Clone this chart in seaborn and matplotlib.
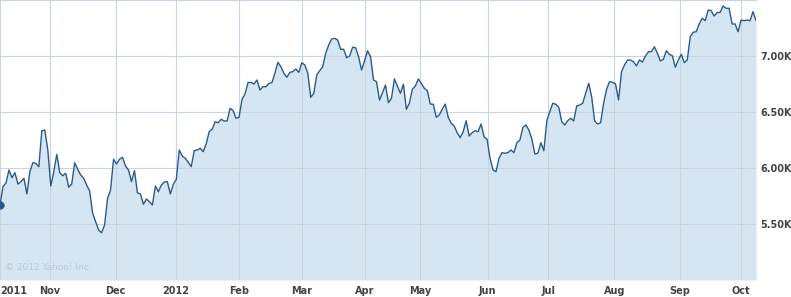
import numpy as np
import pandas as pd
import matplotlib
matplotlib.use("Agg")
import matplotlib.pyplot as plt
import seaborn as sns

# ---- data (index closes, trading days Oct 2011 - Oct 2012) ----
closes = [
    5670, 5833, 5866, 5982, 5913, 5958, 5857, 5878, 5908, 5768, 5967, 6047, 6042, 6012,
    6333, 6339, 6161, 5839, 5967, 6122, 5958, 5931, 5953, 5828, 5857, 6047, 5988, 5938,
    5908, 5848, 5795, 5596, 5521, 5446, 5422, 5491, 5729, 5804, 6078, 6036, 6078, 6096,
    6018,
    5982, 5878, 5976, 5779, 5768, 5676, 5723, 5699, 5670, 5839, 5788, 5848, 5875, 5878,
    5768, 5854, 5899, 6161, 6107, 6087, 6051, 6012, 6154, 6161, 6176, 6146, 6214, 6324,
    6346, 6413, 6404, 6435, 6420, 6420, 6533, 6512, 6444, 6453, 6613, 6661, 6762, 6765,
    6750, 6786, 6696, 6726, 6726, 6756, 6762, 6846, 6944, 6904, 6846, 6810, 6854, 6860,
    6884, 6854, 6940, 6920, 6846, 6631, 6667, 6830, 6869, 6904, 7024, 7098, 7152, 7158,
    7143, 7060, 7060, 6985, 7000, 7078, 7074, 6994, 6875, 6958, 7047, 6994, 6786, 6771,
    6607,
    6672, 6741, 6583, 6622, 6795, 6732, 6667, 6747, 6524, 6578, 6703, 6732, 6795, 6756,
    6712, 6690, 6571, 6569, 6453, 6473, 6524, 6571, 6453, 6399, 6375, 6315, 6271, 6324,
    6422, 6286, 6315, 6333, 6324, 6393, 6279, 6256, 6087, 5982, 5967, 6087, 6137, 6131,
    6137,
    6161, 6137, 6226, 6250, 6363, 6384, 6339, 6256, 6125, 6131, 6226, 6154, 6422, 6503,
    6578, 6569, 6542, 6413, 6384, 6422, 6444, 6420, 6554, 6562, 6578, 6667, 6756, 6637,
    6420, 6393, 6404, 6578, 6703, 6771, 6765, 6750, 6607, 6860, 6920, 6964,
    6964, 6949, 6911, 6964, 6946, 7000, 7038, 7038, 7083, 7024, 6955, 6971, 7047, 7015,
    7003, 6899, 6964, 7015, 6940, 6964, 7172, 7212, 7217, 7286, 7337, 7315, 7411, 7404,
    7357, 7387, 7390, 7446, 7426, 7426, 7286, 7286, 7217, 7321, 7315, 7321, 7315, 7396,
    7315,
]
month_labels = ["2011", "Nov", "Dec", "2012", "Feb", "Mar", "Apr", "May", "Jun",
                "Jul", "Aug", "Sep", "Oct"]
month_ticks = [0, 16.7, 38.7, 58.8, 80.1, 101.0, 122.2, 140.7, 163.2, 183.5,
               205.6, 227.6, 248.0]
y_ticks = [5500, 6000, 6500, 7000]
y_labels = ["5.50K", "6.00K", "6.50K", "7.00K"]
watermark = "\u00a9 2012 Yahoo! Inc."

df = pd.DataFrame({"day": np.arange(len(closes)), "close": closes})

sns.set_style("white")
plt.rcParams["font.family"] = ["DejaVu Sans"]

W, H = 791, 297
fig = plt.figure(figsize=(W / 100, H / 100), dpi=100)
ax = fig.add_axes([0, 17 / H, 756 / W, 280 / H])

line_col = "#2a5a8c"
fill_col = "#d5e5f1"
grid_col = "#c8d5e1"
text_col = "#444444"

ax.fill_between(df["day"], df["close"], 5000, color=fill_col, linewidth=0, zorder=1)
sns.lineplot(data=df, x="day", y="close", ax=ax, color=line_col, linewidth=1.0, zorder=3)
sns.scatterplot(x=df["day"][:1], y=df["close"][:1], ax=ax, color=line_col, s=30,
                edgecolor=line_col, zorder=4)

ax.set_xlim(0, len(closes) - 1)
ax.set_ylim(5000, 7500)

ax.set_xticks(month_ticks)
ax.set_xticklabels(month_labels)
ax.set_yticks(y_ticks)
ax.set_yticklabels(y_labels)
ax.yaxis.tick_right()
ax.tick_params(axis="both", length=0, labelsize=7, labelcolor=text_col)
ax.tick_params(axis="x", pad=4)
ax.tick_params(axis="y", pad=3)
for lab in ax.get_xticklabels() + ax.get_yticklabels():
    lab.set_fontweight("bold")
ax.get_xticklabels()[0].set_horizontalalignment("left")

ax.grid(True, color=grid_col, linewidth=0.8, zorder=2)
ax.set_axisbelow(False)
for g in ax.get_xgridlines() + ax.get_ygridlines():
    g.set_zorder(2)
ax.set_xlabel("")
ax.set_ylabel("")
for s in ax.spines.values():
    s.set_visible(False)
ax.spines["top"].set_visible(True)
ax.spines["top"].set_color(grid_col)
ax.spines["top"].set_linewidth(0.8)

ax.text(0.007, 0.027, watermark, transform=ax.transAxes, fontsize=6.5,
        color="#b9c9d7", ha="left", va="bottom", zorder=5)

fig.savefig("out.png", dpi=100)
